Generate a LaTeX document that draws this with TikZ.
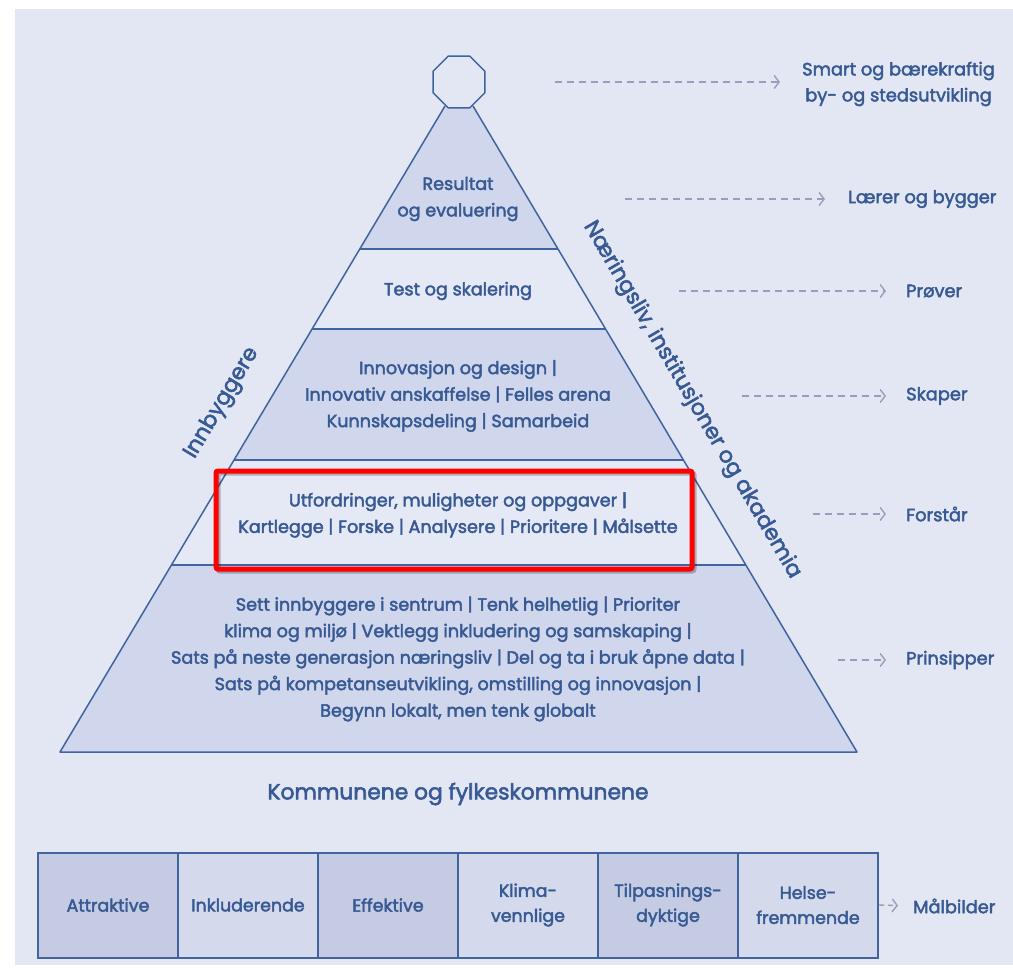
\documentclass[tikz,border=0pt]{standalone}
\usepackage{fontspec}
\usetikzlibrary{arrows.meta,shapes.geometric}
\newfontfamily\pfbase{Poppins}[BoldFont=Poppins, BoldFeatures={FakeBold=2.5}]
\newcommand{\pf}{\pfbase\bfseries}
\definecolor{bgc}{RGB}{227,231,243}
\definecolor{shd}{RGB}{208,214,235}
\definecolor{lgt}{RGB}{229,232,245}
\definecolor{lnc}{RGB}{64,100,160}
\definecolor{tc}{RGB}{56,90,148}
\definecolor{dc}{RGB}{150,160,190}
\definecolor{bxd}{RGB}{196,203,227}
\definecolor{bxl}{RGB}{212,217,236}
\begin{document}
\begin{tikzpicture}[x=1pt,y=-1pt,
  txt/.style={text=tc, font=\pf\fontsize{17.6}{26.5}\selectfont, align=center, inner sep=0},
  side/.style={text=tc, font=\pf\fontsize{21.8}{24}\selectfont, inner sep=0},
  lab/.style={text=tc, font=\pf\fontsize{17.8}{26}\selectfont, align=center, inner sep=0, anchor=west},
  dasharrow/.style={draw=dc, line width=1.4, dash pattern=on 7pt off 5pt, -{Straight Barb[length=5pt,width=13pt,line width=1.4pt]}},
  layer/.style={draw=lnc, line width=1.5},
  box/.style={draw=lnc, line width=2, minimum width=140, minimum height=105, inner sep=0, text=tc, font=\pf\fontsize{17.4}{25}\selectfont, align=center}]
\useasboundingbox (0,0) rectangle (1013,970);
\fill[white] (0,0) rectangle (1013,970);
\fill[bgc] (15,9) rectangle (1013,965);
% pyramid coordinates
\coordinate (A) at (445,106);
\coordinate (B) at (473,106);
\coordinate (L1) at (359.8,249); \coordinate (R1) at (558,249);
\coordinate (L2) at (312.1,329); \coordinate (R2) at (605.6,329);
\coordinate (L3) at (234,460);   \coordinate (R3) at (683.4,460);
\coordinate (L4) at (171.4,565); \coordinate (R4) at (745.8,565);
\coordinate (L5) at (60,752);    \coordinate (R5) at (857,752);
\fill[shd] (A)--(B)--(R1)--(L1)--cycle;
\fill[lgt] (L1)--(R1)--(R2)--(L2)--cycle;
\fill[shd] (L2)--(R2)--(R3)--(L3)--cycle;
\fill[lgt] (L3)--(R3)--(R4)--(L4)--cycle;
\fill[shd] (L4)--(R4)--(R5)--(L5)--cycle;
\draw[layer, line join=round] (A)--(L5)--(R5)--(B);
\draw[layer] (L1)--(R1) (L2)--(R2) (L3)--(R3) (L4)--(R4);
\node[regular polygon, regular polygon sides=8, minimum size=56, inner sep=0, draw=lnc, line width=1.5, fill=bgc] (oct) at (459,82) {};
% pyramid texts
\node[txt] (t1) at (458,199) {Resultat\\og evaluering};
\node[txt] (t2) at (458,291) {Test og skalering};
\node[txt] (t3) at (458,396) {Innovasjon og design |\\Innovativ anskaffelse | Felles arena\\Kunnskapsdeling | Samarbeid};
\node[txt] (t4) at (458,515) {Utfordringer, muligheter og oppgaver |\\Kartlegge | Forske | Analysere | Prioritere | Målsette};
\node[txt] (t5) at (458,659) {Sett innbyggere i sentrum | Tenk helhetlig | Prioriter\\klima og miljø | Vektlegg inkludering og samskaping |\\Sats på neste generasjon næringsliv | Del og ta i bruk åpne data |\\Sats på kompetanseutvikling, omstilling og innovasjon |\\Begynn lokalt, men tenk globalt};
% red highlight
\draw[black, opacity=0.25, line width=5, rounded corners=2] (218,473) rectangle (694,571);
\draw[red, line width=5, rounded corners=2] (216,471) rectangle (692,569);
% side labels
\node[side, rotate=59.2] (inn) at (222,403) {Innbyggere};
\node[side, rotate=-59.6] (nae) at (692,400) {Næringsliv, institusjoner og akademia};
\node[text=tc, font=\pf\fontsize{21.8}{24}\selectfont, inner sep=0] (kom) at (458,794) {Kommunene og fylkeskommunene};
% right labels
\node[lab] (r1) at (802,84) {Smart og bærekraftig\\by- og stedsutvikling};
\node[lab] (r2) at (848,199) {Lærer og bygger};
\node[lab] (r3) at (906,291) {Prøver};
\node[lab] (r4) at (906,396) {Skaper};
\node[lab] (r5) at (906,514) {Forstår};
\node[lab] (r6) at (906,660) {Prinsipper};
\coordinate (s1) at (555,82);
\coordinate (s2) at (625,199);
\coordinate (s3) at (679,291);
\coordinate (s4) at (742,396);
\coordinate (s5) at (813,514);
\coordinate (s6) at (838,660);
\draw[dasharrow, shorten >=22pt] (s1) -- (s1 -| r1.west);
\draw[dasharrow, shorten >=23pt] (s2) -- (r2.west);
\draw[dasharrow, shorten >=20pt] (s3) -- (r3.west);
\draw[dasharrow, shorten >=20pt] (s4) -- (r4.west);
\draw[dasharrow, shorten >=20pt] (s5) -- (r5.west);
\draw[dasharrow, shorten >=20pt] (s6) -- (r6.west);
% bottom boxes
\node[box, fill=bxd] (b1) at (108,905) {Attraktive};
\node[box, fill=bxl] (b2) at (248,905) {Inkluderende};
\node[box, fill=bxd] (b3) at (388,905) {Effektive};
\node[box, fill=bxl] (b4) at (528,905) {Klima-\\vennlige};
\node[box, fill=bxd] (b5) at (668,905) {Tilpasnings-\\dyktige};
\node[box, fill=bxl] (b6) at (808,905) {Helse-\\fremmende};
\node[lab] (r7) at (913,906) {Målbilder};
\draw[dasharrow, dash pattern=on 5pt off 4pt, shorten >=15pt] (b6.east) -- (r7.west);
\end{tikzpicture}
\end{document}
